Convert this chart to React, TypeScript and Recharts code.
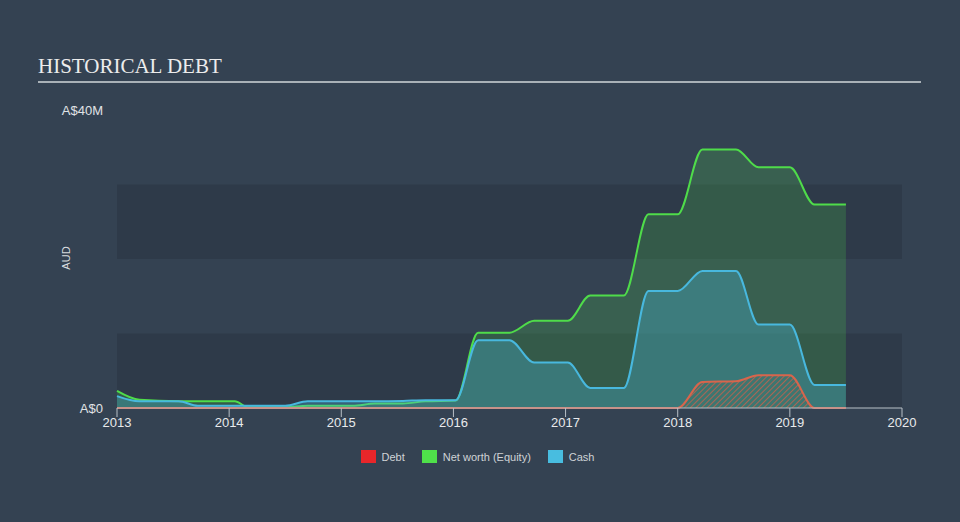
import React from 'react';
import { ComposedChart, Area, XAxis, YAxis, ReferenceArea } from 'recharts';

// decimal years
const dates = [
  2013.0, 2013.2, 2013.55, 2013.72, 2014.05, 2014.17, 2014.5, 2014.7, 2015.1, 2015.3,
  2015.55, 2015.75, 2016.02, 2016.22, 2016.5, 2016.72, 2017.02, 2017.22, 2017.52, 2017.74,
  2018.0, 2018.22, 2018.52, 2018.72, 2019.0, 2019.22, 2019.5,
];
// values in A$ millions
const netWorth = [
  2.3, 1.1, 0.9, 0.9, 0.9, 0.1, 0.1, 0.3, 0.3, 0.6,
  0.6, 0.9, 1.0, 10.1, 10.1, 11.7, 11.7, 15.1, 15.1, 26.0,
  26.0, 34.7, 34.7, 32.3, 32.3, 27.3, 27.3,
];
const cash = [
  1.6, 0.9, 0.9, 0.3, 0.3, 0.3, 0.3, 0.9, 0.9, 0.9,
  0.95, 1.05, 1.05, 9.1, 9.1, 6.1, 6.1, 2.7, 2.7, 15.7,
  15.7, 18.4, 18.4, 11.2, 11.2, 3.1, 3.1,
];
const debt = [
  0, 0, 0, 0, 0, 0, 0, 0, 0, 0,
  0, 0, 0, 0, 0, 0, 0, 0, 0, 0,
  0, 3.5, 3.6, 4.4, 4.4, 0, 0,
];

const yearTicks = [2013, 2014, 2015, 2016, 2017, 2018, 2019, 2020];
const valueTicks = [0, 40];
const bands = [[0, 10], [20, 30]];

const legendItems = [
  { label: 'Debt', color: '#e8262a' },
  { label: 'Net worth (Equity)', color: '#4fe04a' },
  { label: 'Cash', color: '#48bde0' },
];

const data = dates.map((d, i) => ({
  date: d,
  netWorth: netWorth[i],
  cash: cash[i],
  debt: debt[i],
}));

const font = '"Liberation Sans", Arial, sans-serif';

const App = () => {
  return (
    <div style={{ position: 'fixed', top: 0, left: 0, width: 960, height: 522, background: '#344252', fontFamily: font, overflow: 'hidden' }}>
      <div style={{ position: 'absolute', left: 38, top: 54, fontFamily: '"Liberation Serif", "DejaVu Serif", serif', fontSize: 21, color: '#ececec', lineHeight: '24px' }}>
        HISTORICAL DEBT
      </div>
      <div style={{ position: 'absolute', left: 38, top: 81, width: 883, height: 2, background: '#a9b1b7' }} />
      <div style={{ position: 'absolute', left: 54, top: 252, fontSize: 11, color: '#d8dcdf', transform: 'rotate(-90deg)', transformOrigin: 'center', width: 24, textAlign: 'center' }}>
        AUD
      </div>

      <div style={{ position: 'absolute', top: 0, left: 0 }}>
        <ComposedChart width={960} height={522} data={data} margin={{ top: 110, right: 58, left: 0, bottom: 84 }}>
          <defs>
            <pattern id="debtHatch" width="4" height="4" patternUnits="userSpaceOnUse" patternTransform="rotate(45)">
              <rect width="4" height="4" fill="#3d7670" />
              <line x1="0" y1="0" x2="0" y2="4" stroke="#c8614c" strokeWidth="1.6" />
            </pattern>
          </defs>
          {bands.map(([a, b]) => (
            <ReferenceArea key={a} x1={2013} x2={2020} y1={a} y2={b} fill="#2e3a49" fillOpacity={1} stroke="none" ifOverflow="visible" />
          ))}
          <XAxis
            dataKey="date"
            type="number"
            domain={[2013, 2020]}
            ticks={yearTicks}
            height={30}
            stroke="#b8c0c7"
            tickSize={9}
            tickMargin={1}
            tick={{ fill: '#e8eaec', fontSize: 13, fontFamily: font }}
          />
          <YAxis
            type="number"
            domain={[0, 40]}
            ticks={valueTicks}
            width={117}
            axisLine={false}
            tickLine={false}
            tickSize={0}
            tickMargin={14}
            tickFormatter={(v: number) => (v === 0 ? 'A$0' : `A$${v}M`)}
            tick={{ fill: '#e0e3e6', fontSize: 13, fontFamily: font }}
          />
          <Area
            type="monotone"
            dataKey="netWorth"
            stroke="#4fdc4a"
            strokeWidth={2}
            fill="#4fdc4a"
            fillOpacity={0.2}
            isAnimationActive={false}
          />
          <Area
            type="monotone"
            dataKey="cash"
            stroke="#48b8de"
            strokeWidth={2}
            fill="#48b8de"
            fillOpacity={0.32}
            isAnimationActive={false}
          />
          <Area
            type="monotone"
            dataKey="debt"
            stroke="#d8654c"
            strokeWidth={2}
            fill="url(#debtHatch)"
            fillOpacity={1}
            isAnimationActive={false}
          />
        </ComposedChart>
      </div>

      <div style={{ position: 'absolute', top: 450, left: 0, width: 960, display: 'flex', justifyContent: 'center', paddingLeft: 12, boxSizing: 'border-box' }}>
        {legendItems.map((item) => (
          <div key={item.label} style={{ display: 'flex', alignItems: 'center', marginRight: 17, fontSize: 11, color: '#cfd3d6' }}>
            <span style={{ display: 'inline-block', width: 15, height: 13, background: item.color, marginRight: 6 }} />
            {item.label}
          </div>
        ))}
      </div>
    </div>
  );
};

export default App;
